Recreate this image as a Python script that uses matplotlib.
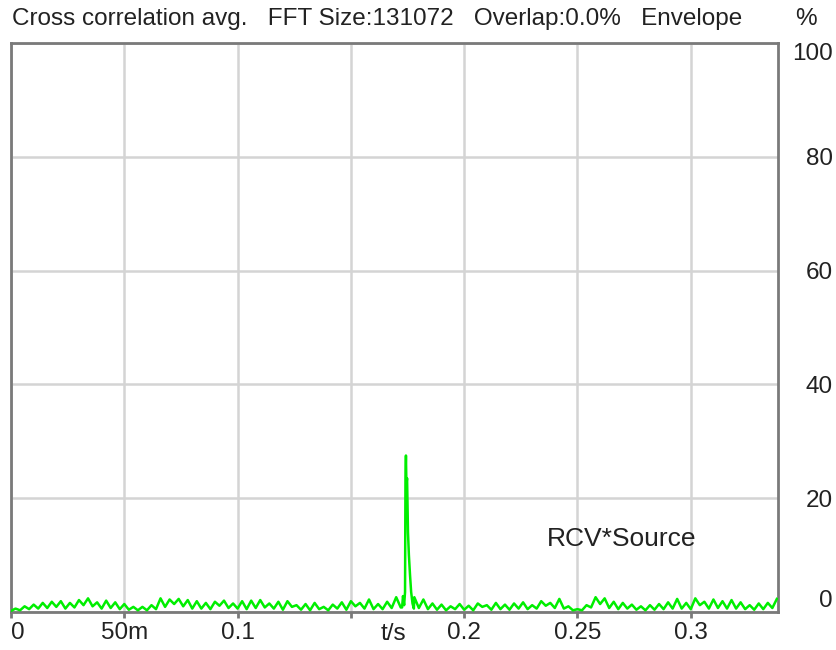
import matplotlib
matplotlib.use("Agg")
import matplotlib.pyplot as plt
import numpy as np

plt.rcParams["font.family"] = ["Liberation Sans", "DejaVu Sans"]

pre_vals = [0.2, 0.6, 0.3, 1.0, 0.5, 1.3, 0.6, 1.6, 0.7, 1.8, 0.9,
            1.9, 0.6, 1.6, 0.8, 2.1, 1.2, 2.4, 1.0, 1.7, 0.6,
            2.0, 0.7, 1.7, 0.5, 1.4, 0.4, 0.9, 0.3, 0.9, 0.3,
            1.2, 0.5, 2.4, 0.9, 2.2, 1.4, 2.3, 1.0, 2.1, 0.6,
            1.9, 0.6, 1.6, 0.5, 1.8, 1.1, 2.0, 0.7, 1.5, 0.6,
            1.9, 0.5, 2.0, 0.7, 2.1, 0.8, 1.5, 0.6, 1.8, 0.4,
            1.9, 0.9, 1.2, 0.4, 1.4, 0.3, 1.6, 0.5, 0.9, 0.3,
            1.3, 0.6, 1.7, 0.4, 1.9, 1.0, 1.6, 0.6, 2.2, 0.5,
            1.4, 0.5, 1.8, 0.7, 2.6, 0.8]
post_vals = [2.6, 0.7, 2.2, 0.5, 1.5, 0.4, 1.3, 0.3, 1.0, 0.5,
             1.4, 0.4, 1.1, 0.3, 1.5, 0.9, 1.2, 0.4, 1.6, 0.5,
             1.3, 0.4, 1.5, 0.6, 1.7, 0.5, 1.2, 0.6, 1.9, 1.1,
             1.6, 0.7, 2.3, 0.6, 1.0, 0.3, 0.5, 0.3, 1.2, 0.8,
             2.6, 1.4, 2.4, 0.7, 1.8, 0.5, 1.6, 0.6, 1.3, 0.4,
             1.0, 0.3, 1.2, 0.4, 1.4, 0.5, 1.7, 0.6, 2.3, 0.6,
             1.6, 0.5, 2.4, 1.2, 1.8, 0.6, 2.2, 0.7, 1.9, 0.6,
             2.1, 0.6, 1.7, 0.5, 1.2, 0.4, 1.5, 0.5, 1.6, 0.7, 2.3]
pre_t = np.arange(len(pre_vals)) * 0.002
post_t = 0.178 + np.arange(len(post_vals)) * 0.002

# correlation peak
peak_t = [0.1726, 0.1730, 0.1735, 0.1739, 0.1741, 0.1743, 0.1745, 0.1748,
          0.1752, 0.1756, 0.1761, 0.1766, 0.1772, 0.1778]
peak_v = [0.8, 2.8, 1.2, 3.5, 24.0, 27.5, 22.5, 23.5,
          14.0, 10.0, 6.5, 3.5, 1.5, 0.6]

t = np.concatenate([pre_t, peak_t, post_t])
v = np.concatenate([pre_vals, peak_v, post_vals])

xticks = [0, 0.05, 0.1, 0.15, 0.2, 0.25, 0.3]
xlabels = ["0", "50m", "0.1", "", "0.2", "0.25", "0.3"]
yticks = [0, 20, 40, 60, 80, 100]

fs = 17.5
txt = "#222222"

fig = plt.figure(figsize=(8.36, 6.5), dpi=100)
ax = fig.add_axes([11 / 836, 1 - 612 / 650, 767 / 836, 569 / 650])

ax.plot(t, v, color="#00ee00", lw=1.8, zorder=3)

ax.set_xlim(0, 0.3385)
ax.set_ylim(0, 100)
ax.set_xticks(xticks)
ax.set_xticklabels(xlabels)
ax.set_yticks(yticks)
ax.grid(True, color="#d4d4d4", lw=1.8)
ax.set_axisbelow(True)

for s in ax.spines.values():
    s.set_color("#7a7a7a")
    s.set_linewidth(2)

ax.tick_params(axis="x", length=4, width=2, color="#7a7a7a", labelsize=fs, pad=3,
               labelcolor=txt)
ax.tick_params(axis="y", length=0, left=False, right=True, labelleft=False,
               labelright=True, labelsize=fs, pad=39.5, labelcolor=txt)
ylabs = ax.get_yticklabels()
for lab in ylabs:
    lab.set_ha("right")
ylabs[0].set_va("bottom")
ylabs[-1].set_va("top")
ax.get_xticklabels()[0].set_ha("left")

ax.text(0.1686, -0.019, "t/s", transform=ax.get_xaxis_transform(), ha="center",
        va="top", fontsize=fs, color=txt)
ax.text(0.2695, 12.9, "RCV*Source", ha="center", va="center", fontsize=19,
        color=txt)

fig.text(12 / 836, 1 - 19 / 650,
         "Cross correlation avg.   FFT Size:131072   Overlap:0.0%   Envelope",
         ha="left", va="center", fontsize=fs, color=txt)
fig.text(806 / 836, 1 - 19 / 650, "%", ha="center", va="center", fontsize=fs,
         color=txt)

fig.savefig("out.png", dpi=100)
